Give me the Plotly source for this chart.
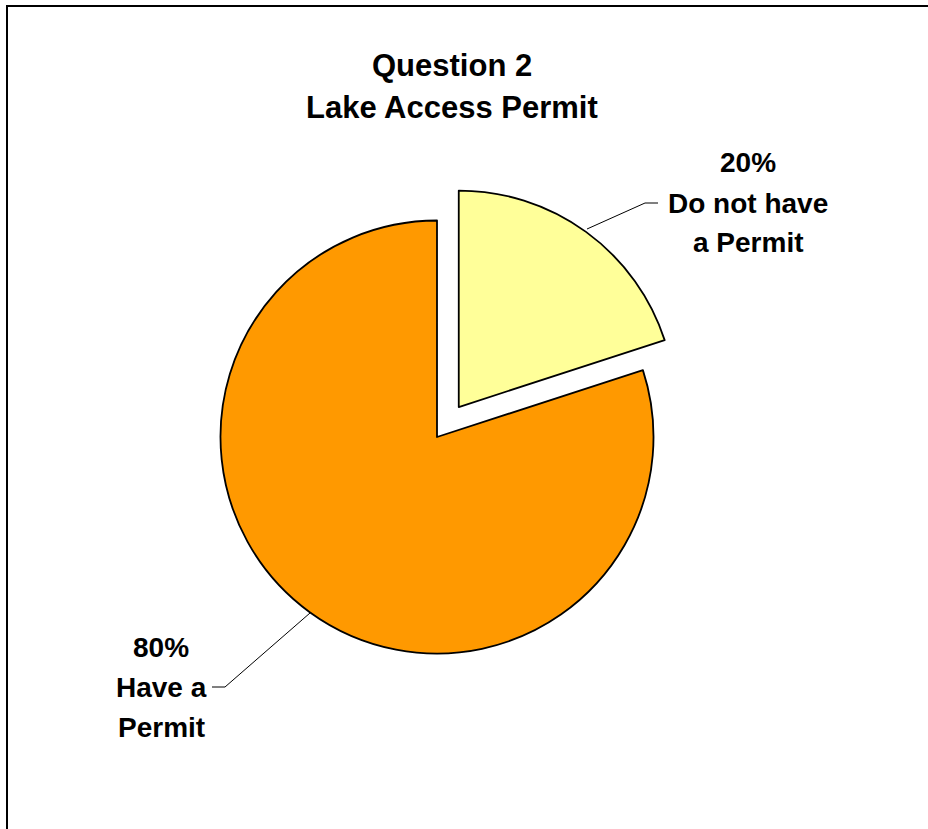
import plotly.graph_objects as go

W, H = 928, 829

# Data
categories = ["Do not have a Permit", "Have a Permit"]
values = [20, 80]
colors = ["#FFFF99", "#FF9900"]
pulls = [0.171, 0.0]
title_lines = ["Question 2", "Lake Access Permit"]
label_lines = [["20%", "Do not have", "a Permit"], ["80%", "Have a", "Permit"]]

# pixel helpers (margins are zero so paper == full figure)
def px(x):
    return x / W

def py(y):
    return 1 - y / H

# pie geometry: center (437, 437), radius ~216.5 px
cx, cy, r = 437, 437, 216.5
half = r * (1 + max(pulls))

fig = go.Figure(go.Pie(
    labels=categories,
    values=values,
    marker=dict(colors=colors, line=dict(color="black", width=1.8)),
    pull=pulls,
    sort=False,
    direction="clockwise",
    rotation=0,
    textinfo="none",
    hoverinfo="label+percent",
    showlegend=False,
    domain=dict(x=[px(cx - half), px(cx + half)], y=[py(cy + half), py(cy - half)]),
))

font_family = "Liberation Sans, Arial, sans-serif"
annotations = []
# Title
for t, yy in zip(title_lines, [66, 107]):
    annotations.append(dict(text=f"<b>{t}</b>", x=px(452), y=py(yy), xref="paper", yref="paper",
                            xanchor="center", yanchor="middle", showarrow=False,
                            font=dict(family=font_family, size=31, color="black")))
# Labels
label_pos = [(748, [162, 203, 243]), (161, [647, 687, 727])]
for lines, (lx, ys) in zip(label_lines, label_pos):
    for t, yy in zip(lines, ys):
        annotations.append(dict(text=f"<b>{t}</b>", x=px(lx), y=py(yy), xref="paper", yref="paper",
                                xanchor="center", yanchor="middle", showarrow=False,
                                font=dict(family=font_family, size=28, color="black")))

shapes = [
    # outer border
    dict(type="rect", xref="paper", yref="paper", x0=px(7), y0=py(H + 5), x1=px(W + 5), y1=py(6),
         line=dict(color="black", width=2), fillcolor="rgba(0,0,0,0)"),
    # leader lines
    dict(type="path", xref="paper", yref="paper",
         path=f"M {px(587)} {py(229)} L {px(645)} {py(203)} L {px(658)} {py(203)}",
         line=dict(color="black", width=1)),
    dict(type="path", xref="paper", yref="paper",
         path=f"M {px(310)} {py(613)} L {px(225)} {py(687)} L {px(212)} {py(687)}",
         line=dict(color="black", width=1)),
]

fig.update_layout(
    width=W, height=H,
    margin=dict(l=0, r=0, t=0, b=0),
    paper_bgcolor="white",
    plot_bgcolor="white",
    annotations=annotations,
    shapes=shapes,
)

fig.write_html("out.html", config={"displayModeBar": False},
               post_script="document.body.style.margin='0';")
